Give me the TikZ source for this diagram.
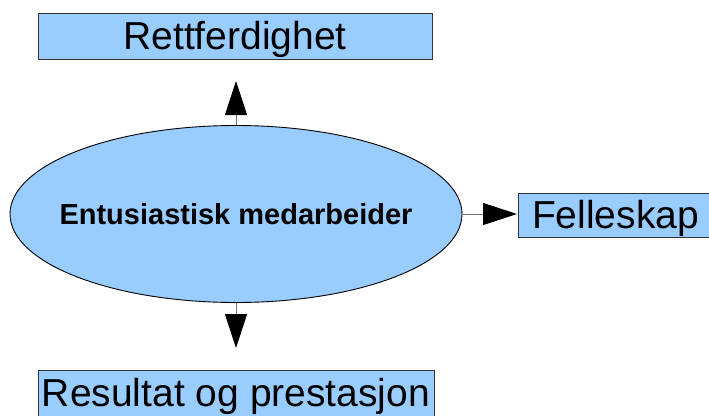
\documentclass[tikz,border=0pt]{standalone}
\usepackage{fontspec}
\setmainfont{Liberation Sans}
\usetikzlibrary{arrows.meta,shapes.geometric}
\definecolor{skyfill}{HTML}{99CCFF}
\begin{document}
\begin{tikzpicture}[x=1pt,y=-1pt,
  box/.style={draw=black!80, line width=0.8pt, fill=skyfill, rectangle,
    inner sep=0pt, text height=30pt, text depth=3pt,
    font=\fontsize{39}{45}\selectfont},
  hub/.style={draw=black, line width=0.9pt, fill=skyfill, ellipse,
    inner sep=0pt, minimum width=452pt, minimum height=177pt},
  hubtext/.style={font=\bfseries\fontsize{29}{34}\selectfont},
  link/.style={draw=black!55, line width=1pt,
    -{Triangle[length=34pt,width=22pt,color=black]}}]
\useasboundingbox (0,0) rectangle (709,415);

% central ellipse, its caption set as a centred label
\node[hub, label={[hubtext]center:Entusiastisk medarbeider}] (e) at (236,214) {};

% the three outcome boxes
\node[box, minimum width=394pt, minimum height=46pt] (top) at (235,36) {Rettferdighet};
\node[box, minimum width=195pt, minimum height=44pt] (right) at (615.5,215) {Felleskap};
\node[box, minimum width=396pt, minimum height=46pt] (bottom) at (236,393) {Resultat og prestasjon};

% free ends of the arrows
\coordinate (tipUp) at (236,81);
\coordinate (tipRight) at (517,214);
\coordinate (tipDown) at (236,348);

\draw[link] (e.north) -- (tipUp);
\draw[link] (e.east) -- (tipRight);
\draw[link] (e.south) -- (tipDown);
\end{tikzpicture}
\end{document}
